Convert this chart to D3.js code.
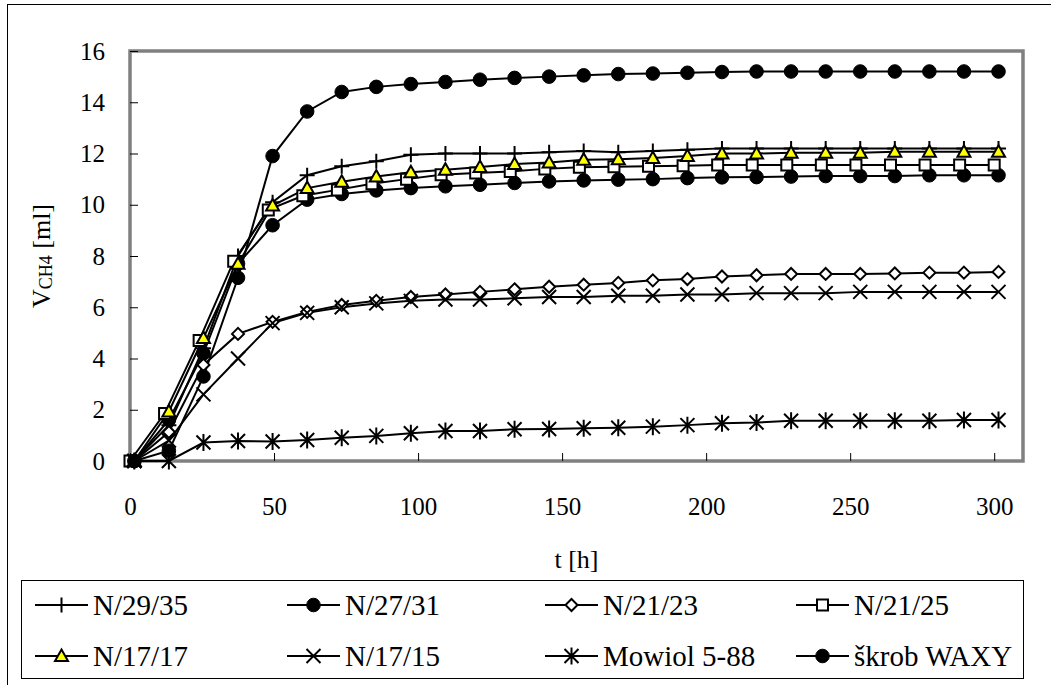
<!DOCTYPE html>
<html>
<head>
<meta charset="utf-8">
<script src="https://cdn.jsdelivr.net/npm/d3@7"></script>
<style>
  body { margin: 0; background: #fff; }
  text { font-family: "Liberation Serif", "Times New Roman", serif; fill: #000; }
</style>
</head>
<body>
<svg id="chart" width="1051" height="685"></svg>
<script>
// measurement times [h]
const tMain = [1.5, 13.5, 25.5, 37.5, 49.5, 61.5, 73.5, 85.5, 97.5, 109.5, 121.5, 133.5, 145.5,
               157.5, 169.5, 181.5, 193.5, 205.5, 217.5, 229.5, 241.5, 253.5, 265.5, 277.5, 289.5, 301.5];
const tSquare = [0, 12, 24, 36, 48, 60, 72, 84, 96, 108, 120, 132, 144,
                 156, 168, 180, 192, 204, 216, 228, 240, 252, 264, 276, 288, 300];

// V CH4 [ml]
const n2935 = [0, 1.4, 4.4, 8.0, 10.1, 11.15, 11.5, 11.7, 11.95, 12.0, 12.0, 12.0, 12.05,
               12.1, 12.05, 12.1, 12.15, 12.2, 12.2, 12.2, 12.2, 12.2, 12.2, 12.2, 12.2, 12.2];
const n2731 = [0, 1.6, 4.2, 7.7, 9.2, 10.2, 10.42, 10.56, 10.65, 10.72, 10.78, 10.85, 10.91,
               10.95, 10.98, 11.0, 11.04, 11.07, 11.08, 11.1, 11.12, 11.12, 11.12, 11.15, 11.15, 11.15];
const n2123 = [0, 1.13, 3.75, 4.96, 5.43, 5.82, 6.09, 6.25, 6.4, 6.5, 6.6, 6.7, 6.8,
               6.88, 6.95, 7.05, 7.1, 7.2, 7.25, 7.3, 7.3, 7.3, 7.32, 7.35, 7.35, 7.38];
const n2125 = [0, 1.85, 4.7, 7.8, 9.8, 10.35, 10.58, 10.82, 11.0, 11.17, 11.24, 11.3, 11.4,
               11.46, 11.48, 11.5, 11.52, 11.55, 11.55, 11.55, 11.55, 11.55, 11.55, 11.55, 11.55, 11.55];
const n1717 = [0, 1.93, 4.8, 7.7, 9.97, 10.65, 10.9, 11.1, 11.27, 11.37, 11.47, 11.59, 11.65,
               11.76, 11.78, 11.82, 11.9, 12.0, 12.0, 12.03, 12.03, 12.03, 12.07, 12.07, 12.07, 12.07];
const n1715 = [0, 0.8, 2.6, 4.0, 5.38, 5.78, 6.0, 6.15, 6.25, 6.3, 6.3, 6.35, 6.4,
               6.4, 6.45, 6.45, 6.5, 6.5, 6.55, 6.55, 6.55, 6.6, 6.6, 6.6, 6.6, 6.6];
const mowiol = [0, 0, 0.72, 0.78, 0.76, 0.82, 0.91, 0.98, 1.08, 1.17, 1.17, 1.24, 1.25,
                1.28, 1.3, 1.34, 1.4, 1.47, 1.5, 1.57, 1.57, 1.57, 1.57, 1.57, 1.6, 1.6];
const skrob = [0, 0.4, 3.3, 7.15, 11.9, 13.64, 14.4, 14.6, 14.71, 14.79, 14.88, 14.95, 15.0,
               15.05, 15.1, 15.12, 15.15, 15.18, 15.2, 15.2, 15.2, 15.2, 15.2, 15.2, 15.2, 15.2];

const seriesNames = ["N/29/35", "N/27/31", "N/21/23", "N/21/25", "N/17/17", "N/17/15", "Mowiol 5-88", "škrob WAXY"];
const xTicks = [0, 50, 100, 150, 200, 250, 300];
const yTicks = [0, 2, 4, 6, 8, 10, 12, 14, 16];

const series = [
    {name: seriesNames[0], t: tMain, v: n2935, mark: "plus", fill: "none"},
    {name: seriesNames[1], t: tMain, v: n2731, mark: "circle", fill: "#000"},
    {name: seriesNames[2], t: tMain, v: n2123, mark: "diamond", fill: "#fff"},
    {name: seriesNames[3], t: tSquare, v: n2125, mark: "square", fill: "#fff"},
    {name: seriesNames[4], t: tMain, v: n1717, mark: "triangle", fill: "#ffff00"},
    {name: seriesNames[5], t: tMain, v: n1715, mark: "times", fill: "none"},
    {name: seriesNames[6], t: tMain, v: mowiol, mark: "asterisk", fill: "none"},
    {name: seriesNames[7], t: tMain, v: skrob, mark: "circle", fill: "#000"}
];

function markerPath(type) {
    switch (type) {
        case "circle": return d3.symbol(d3.symbolCircle, Math.PI * 6.8 * 6.8)();
        case "plus": return "M0,-7.5V7.5M-7.5,0H7.5";
        case "times": return "M-7,-7L7,7M-7,7L7,-7";
        case "asterisk": return "M-7,-7L7,7M-7,7L7,-7M0,-8.5V8.5";
        case "diamond": return "M0,-6L6,0L0,6L-6,0Z";
        case "square": return "M-5.5,-5.5H5.5V5.5H-5.5Z";
        case "triangle": return "M0,-6.5L6.5,5L-6.5,5Z";
    }
}

const svg = d3.select("#chart");

// outer chart frame (runs past the picture edge on the right and bottom)
svg.append("rect")
    .attr("x", 7.5).attr("y", 4.5)
    .attr("width", 1100).attr("height", 1000)
    .attr("fill", "#fff").attr("stroke", "#000").attr("stroke-width", 1);

const x = d3.scaleLinear().domain([0, 310]).range([130, 1023]);
const y = d3.scaleLinear().domain([0, 16]).range([461, 51]);

// plot area frame
svg.append("rect")
    .attr("x", x(0)).attr("y", y(16))
    .attr("width", x(310) - x(0)).attr("height", y(0) - y(16))
    .attr("fill", "#fff").attr("stroke", "#808080").attr("stroke-width", 3.5);

const yAxis = svg.append("g")
    .attr("transform", `translate(${x(0)},0)`)
    .call(d3.axisLeft(y).tickValues(yTicks).tickSize(-8).tickPadding(25).tickFormat(d3.format("d")));
const xAxis = svg.append("g")
    .attr("transform", `translate(0,${y(0)})`)
    .call(d3.axisBottom(x).tickValues(xTicks).tickSize(-8).tickPadding(36).tickFormat(d3.format("d")));

[yAxis, xAxis].forEach(g => {
    g.attr("font-family", null);
    g.select(".domain").remove();
    g.selectAll(".tick line").attr("stroke", "#000").attr("stroke-width", 1);
    g.selectAll(".tick text")
        .attr("font-size", 25)
        .attr("fill", "#000");
});

// axis titles
svg.append("text")
    .attr("x", (x(0) + x(310)) / 2).attr("y", 568)
    .attr("text-anchor", "middle").attr("font-size", 26)
    .text("t [h]");

const yTitle = svg.append("text")
    .attr("transform", `translate(50,${(y(0) + y(16)) / 2}) rotate(-90)`)
    .attr("text-anchor", "middle").attr("font-size", 26);
yTitle.append("tspan").text("V");
yTitle.append("tspan").attr("font-size", 18).attr("dy", 2).text("CH4");
yTitle.append("tspan").attr("dy", -2).text(" [ml]");

// lines
const line = d3.line().x(d => x(d[0])).y(d => y(d[1]));
const plot = svg.append("g");
series.forEach(s => {
    plot.append("path")
        .datum(s.t.map((t, i) => [t, s.v[i]]))
        .attr("d", line)
        .attr("fill", "none")
        .attr("stroke", "#000")
        .attr("stroke-width", 2);
});

// markers
series.forEach(s => {
    plot.append("g")
        .selectAll("path")
        .data(s.t.map((t, i) => [t, s.v[i]]))
        .join("path")
        .attr("transform", d => `translate(${x(d[0])},${y(d[1])})`)
        .attr("d", markerPath(s.mark))
        .attr("fill", s.fill)
        .attr("stroke", "#000")
        .attr("stroke-width", s.mark === "circle" ? 1 : 2);
});

// legend
svg.append("rect")
    .attr("x", 21.5).attr("y", 580.5)
    .attr("width", 1002).attr("height", 98)
    .attr("fill", "#fff").attr("stroke", "#000").attr("stroke-width", 1);

const legCols = [35, 287, 545, 796];
const legRows = [605, 656];
const leg = svg.append("g")
    .selectAll("g")
    .data(series)
    .join("g")
    .attr("transform", (d, i) => `translate(${legCols[i % 4]},${legRows[Math.floor(i / 4)]})`);
leg.append("line")
    .attr("x1", 0).attr("x2", 53)
    .attr("stroke", "#000").attr("stroke-width", 2);
leg.append("path")
    .attr("transform", "translate(26.5,0)")
    .attr("d", d => markerPath(d.mark))
    .attr("fill", d => d.fill)
    .attr("stroke", "#000")
    .attr("stroke-width", d => d.mark === "circle" ? 1 : 2);
leg.append("text")
    .attr("x", 58).attr("y", 10)
    .attr("font-size", 29)
    .text(d => d.name);
</script>
</body>
</html>
